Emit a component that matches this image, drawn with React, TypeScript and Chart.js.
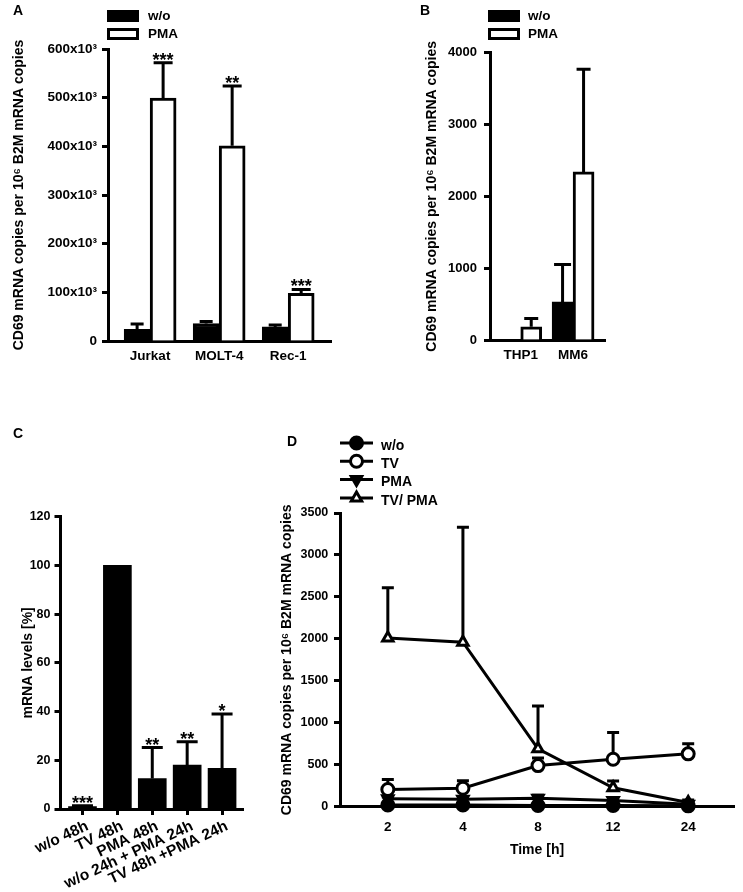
import React, { useEffect, useRef } from "react";
import { Chart, registerables } from "chart.js";

Chart.register(...registerables);

const FONT = "'Liberation Sans', Arial, Helvetica, sans-serif";
const INK = "#000000";
const PAPER = "#ffffff";

// ---------------- data ----------------
// Panel A
const aCategories = ["Jurkat", "MOLT-4", "Rec-1"];
const aWoMeans = [24000, 36000, 29000];
const aWoSd = [11000, 4000, 4000];
const aPmaMeans = [499000, 401000, 98000];
const aPmaSd = [73000, 123000, 8000];
const aPmaStars = ["***", "**", "***"];
const aYTicks = [0, 100000, 200000, 300000, 400000, 500000, 600000];

// Panel B
const bCategories = ["THP1", "MM6"];
const bWoMeans = [8, 530];
const bWoSd = [0, 520];
const bPmaMeans = [185, 2340];
const bPmaSd = [115, 1430];
const bYTicks = [0, 1000, 2000, 3000, 4000];

// Panel C
const cCategories = ["w/o 48h", "TV 48h", "PMA 48h", "w/o 24h + PMA 24h", "TV 48h +PMA 24h"];
const cMeans = [1, 100, 12.5, 18, 16.7];
const cSd = [0.3, 0, 12.7, 9.6, 22.3];
const cStars = ["***", "", "**", "**", "*"];
const cYTicks = [0, 20, 40, 60, 80, 100, 120];

// Panel D
const dTimes = ["2", "4", "8", "12", "24"];
const dWoMeans = [20, 20, 15, 15, 10];
const dWoSd = [10, 10, 10, 10, 5];
const dTvMeans = [205, 220, 490, 565, 630];
const dTvSd = [120, 90, 90, 320, 120];
const dPmaMeans = [95, 90, 100, 75, 30];
const dPmaSd = [20, 20, 35, 20, 10];
const dTvPmaMeans = [2010, 1960, 690, 225, 50];
const dTvPmaSd = [600, 1370, 510, 80, 30];
const dYTicks = [0, 500, 1000, 1500, 2000, 2500, 3000, 3500];

const Y_TITLE_COPIES = "CD69 mRNA copies per 10\u2076 B2M mRNA copies";
const Y_TITLE_PERCENT = "mRNA levels [%]";
const X_TITLE_TIME = "Time [h]";

// ---------------- layout ----------------
type Box = { left: number; top: number; width: number; height: number };
type Area = { l: number; t: number; r: number; b: number };

const boxA: Box = { left: 0, top: 0, width: 372, height: 380 };
const areaA: Area = { l: 108, t: 49, r: 331, b: 341 };
const boxB: Box = { left: 380, top: 0, width: 363, height: 380 };
const areaB: Area = { l: 490, t: 52.7, r: 605, b: 340 };
const boxC: Box = { left: 0, top: 420, width: 300, height: 472 };
const areaC: Area = { l: 60.5, t: 516.7, r: 243, b: 809 };
const boxD: Box = { left: 270, top: 420, width: 473, height: 472 };
const areaD: Area = { l: 340, t: 513, r: 738, b: 806.7 };

function frame(box: Box, area: Area) {
  return {
    padding: { left: 0, top: area.t - box.top, right: box.left + box.width - area.r, bottom: 0 },
    yWidth: area.l - box.left,
    xHeight: box.top + box.height - area.b,
  };
}

const bold = (size: number) => ({ family: FONT, size, weight: "bold" as const });

// ---------------- plugins ----------------
const errorBarPlugin = {
  id: "errorBars",
  beforeDatasetsDraw(chart: any) {
    const { ctx } = chart;
    const ys = chart.scales.y;
    chart.data.datasets.forEach((ds: any, di: number) => {
      if (!ds.errors) return;
      const meta = chart.getDatasetMeta(di);
      ctx.save();
      ctx.strokeStyle = INK;
      ctx.lineWidth = 3;
      ctx.lineCap = "butt";
      meta.data.forEach((el: any, i: number) => {
        const sd = ds.errors[i];
        if (!sd) return;
        const v = ds.data[i].y;
        const x = el.x;
        const y0 = ys.getPixelForValue(v);
        const y1 = ys.getPixelForValue(v + sd);
        const cw = ds.errorCap || 14;
        ctx.beginPath();
        ctx.moveTo(x, y0);
        ctx.lineTo(x, y1);
        ctx.moveTo(x - cw / 2, y1);
        ctx.lineTo(x + cw / 2, y1);
        ctx.stroke();
      });
      ctx.restore();
    });
  },
};

const starPlugin = {
  id: "stars",
  afterDatasetsDraw(chart: any) {
    const { ctx } = chart;
    const ys = chart.scales.y;
    chart.data.datasets.forEach((ds: any, di: number) => {
      if (!ds.stars) return;
      const meta = chart.getDatasetMeta(di);
      ctx.save();
      ctx.fillStyle = INK;
      ctx.font = `bold 18px ${FONT}`;
      ctx.textAlign = "center";
      ctx.textBaseline = "alphabetic";
      meta.data.forEach((el: any, i: number) => {
        const s = ds.stars[i];
        if (!s) return;
        const v = ds.data[i].y + (ds.errors ? ds.errors[i] || 0 : 0);
        ctx.fillText(s, el.x, ys.getPixelForValue(v) + 3);
      });
      ctx.restore();
    });
  },
};

function drawMarker(ctx: CanvasRenderingContext2D, style: string, x: number, y: number, r: number, rotDeg: number, fill: string) {
  ctx.beginPath();
  if (style === "triangle") {
    let rad = (rotDeg * Math.PI) / 180;
    ctx.moveTo(x + Math.sin(rad) * r, y - Math.cos(rad) * r);
    rad += (2 * Math.PI) / 3;
    ctx.lineTo(x + Math.sin(rad) * r, y - Math.cos(rad) * r);
    rad += (2 * Math.PI) / 3;
    ctx.lineTo(x + Math.sin(rad) * r, y - Math.cos(rad) * r);
    ctx.closePath();
  } else {
    ctx.arc(x, y, r, 0, Math.PI * 2);
  }
  ctx.fillStyle = fill;
  ctx.fill();
  ctx.lineWidth = 3;
  ctx.strokeStyle = INK;
  ctx.stroke();
}

const legendPlugin = {
  id: "panelLegend",
  afterDraw(chart: any, _args: any, o: any) {
    if (!o || !o.kind) return;
    const { ctx } = chart;
    ctx.save();
    ctx.font = `bold ${o.fontSize || 14}px ${FONT}`;
    ctx.textBaseline = "middle";
    ctx.textAlign = "left";
    chart.data.datasets.forEach((ds: any, i: number) => {
      const cy = o.y + i * o.dy;
      if (o.kind === "box") {
        const x = o.x;
        const y = cy - o.boxH / 2;
        ctx.fillStyle = ds.backgroundColor;
        ctx.fillRect(x, y, o.boxW, o.boxH);
        ctx.lineWidth = 3;
        ctx.strokeStyle = INK;
        ctx.strokeRect(x + 1.5, y + 1.5, o.boxW - 3, o.boxH - 3);
      } else {
        ctx.lineWidth = 3;
        ctx.strokeStyle = INK;
        ctx.beginPath();
        ctx.moveTo(o.x, cy);
        ctx.lineTo(o.x + o.lineW, cy);
        ctx.stroke();
        drawMarker(ctx, ds.pointStyle, o.x + o.lineW / 2, cy, ds.pointRadius, ds.pointRotation || 0, ds.pointBackgroundColor);
      }
      ctx.fillStyle = INK;
      ctx.fillText(ds.label, o.textX, cy + (o.textDy || 0));
    });
    ctx.restore();
  },
};

// ---------------- scale builders ----------------
function indexX(labels: string[], min: number, max: number, height: number, fontSize: number, pad: number, extra: any = {}) {
  return {
    type: "linear",
    min,
    max,
    offset: false,
    z: 1,
    afterBuildTicks: (s: any) => {
      s.ticks = labels.map((_, i) => ({ value: i }));
    },
    afterFit: (s: any) => {
      s.height = height;
    },
    ticks: {
      autoSkip: false,
      maxRotation: 0,
      minRotation: 0,
      color: INK,
      font: bold(fontSize),
      padding: pad,
      callback: (v: number) => labels[Math.round(v)] ?? "",
    },
    grid: { display: false, drawTicks: false, offset: false },
    border: { display: true, width: 3, color: INK },
    ...extra,
  };
}

function valueY(o: {
  ticks: number[];
  width: number;
  title: string;
  titlePad: number;
  fontSize: number;
  pad: number;
  fmt?: (v: number) => string;
  z?: number;
}) {
  const step = o.ticks[1] - o.ticks[0];
  return {
    type: "linear",
    min: o.ticks[0],
    max: o.ticks[o.ticks.length - 1],
    z: o.z ?? 1,
    afterFit: (s: any) => {
      s.width = o.width;
    },
    ticks: {
      stepSize: step,
      color: INK,
      font: bold(o.fontSize),
      padding: o.pad,
      callback: (v: number) => (o.fmt ? o.fmt(v) : String(v)),
    },
    grid: { display: true, drawOnChartArea: false, drawTicks: true, tickLength: 6, tickWidth: 3, tickColor: INK },
    border: { display: true, width: 3, color: INK },
    title: { display: true, text: o.title, color: INK, font: bold(14), padding: { top: o.titlePad, bottom: 0 } },
  };
}

function baseOptions(f: ReturnType<typeof frame>) {
  return {
    animation: false,
    responsive: false,
    maintainAspectRatio: false,
    layout: { padding: f.padding },
    events: [],
  };
}

const offPlugins = { legend: { display: false }, tooltip: { enabled: false }, title: { display: false } };

// ---------------- chart configs ----------------
function buildA() {
  const f = frame(boxA, areaA);
  return {
    type: "bar",
    data: {
      datasets: [
        { label: "w/o", data: aWoMeans.map((y, x) => ({ x, y })), errors: aWoSd, errorCap: 13, backgroundColor: INK, borderColor: INK, borderWidth: 3, barThickness: 26 },
        { label: "PMA", data: aPmaMeans.map((y, x) => ({ x, y })), errors: aPmaSd, stars: aPmaStars, errorCap: 19, backgroundColor: PAPER, borderColor: INK, borderWidth: 3, barThickness: 26 },
      ],
    },
    options: {
      ...baseOptions(f),
      scales: {
        x: indexX(aCategories, -0.61, 2.62, f.xHeight, 13.5, 7),
        y: valueY({ ticks: aYTicks, width: f.yWidth, title: Y_TITLE_COPIES, titlePad: 11.1, fontSize: 13.5, pad: 5, fmt: (v) => (v === 0 ? "0" : `${v / 1000}x10\u00b3`) }),
      },
      plugins: { ...offPlugins, panelLegend: { kind: "box", x: 107, y: 16, dy: 18, boxW: 32, boxH: 12, textX: 148, fontSize: 13.5 } },
    },
    plugins: [errorBarPlugin, starPlugin, legendPlugin],
  };
}

function buildB() {
  const f = frame(boxB, areaB);
  return {
    type: "bar",
    data: {
      datasets: [
        { label: "w/o", data: bWoMeans.map((y, x) => ({ x, y })), errors: bWoSd, errorCap: 17, backgroundColor: INK, borderColor: INK, borderWidth: 3, barThickness: 21 },
        { label: "PMA", data: bPmaMeans.map((y, x) => ({ x, y })), errors: bPmaSd, errorCap: 14, backgroundColor: PAPER, borderColor: INK, borderWidth: 3, barThickness: 21 },
      ],
    },
    options: {
      ...baseOptions(f),
      scales: {
        x: indexX(bCategories, -0.587, 1.61, f.xHeight, 13.5, 7),
        y: valueY({ ticks: bYTicks, width: f.yWidth, title: Y_TITLE_COPIES, titlePad: 44.1, fontSize: 13, pad: 7 }),
      },
      plugins: { ...offPlugins, panelLegend: { kind: "box", x: 108, y: 16, dy: 18, boxW: 32, boxH: 12, textX: 148, fontSize: 13.5 } },
    },
    plugins: [errorBarPlugin, starPlugin, legendPlugin],
  };
}

function buildC() {
  const f = frame(boxC, areaC);
  return {
    type: "bar",
    data: {
      datasets: [
        { label: "mRNA", data: cMeans.map((y, x) => ({ x, y })), errors: cSd, stars: cStars, errorCap: 21, backgroundColor: INK, borderColor: INK, borderWidth: 0, barThickness: 28 },
      ],
    },
    options: {
      ...baseOptions(f),
      scales: {
        x: indexX(cCategories, -0.63, 4.6, f.xHeight, 15, 0, {
          grid: { display: true, drawOnChartArea: false, drawTicks: true, tickLength: 6, tickWidth: 3, tickColor: INK, offset: false },
          ticks: {
            autoSkip: false,
            maxRotation: 25,
            minRotation: 25,
            color: INK,
            font: bold(15.5),
            padding: 2,
            labelOffset: 5,
            callback: (v: number) => cCategories[Math.round(v)] ?? "",
          },
        }),
        y: valueY({ ticks: cYTicks, width: f.yWidth, title: Y_TITLE_PERCENT, titlePad: 19.9, fontSize: 12.5, pad: 4 }),
      },
      plugins: { ...offPlugins },
    },
    plugins: [errorBarPlugin, starPlugin],
  };
}

function lineDs(label: string, means: number[], sd: number[], style: string, rot: number, fill: string) {
  return {
    label,
    data: means.map((y, x) => ({ x, y })),
    errors: sd,
    errorCap: 12,
    borderColor: INK,
    borderWidth: 3,
    backgroundColor: fill,
    pointStyle: style,
    pointRotation: rot,
    pointRadius: 6,
    pointBorderWidth: 3,
    pointBorderColor: INK,
    pointBackgroundColor: fill,
    tension: 0,
    fill: false,
    clip: false,
  };
}

function buildD() {
  const f = frame(boxD, areaD);
  return {
    type: "line",
    data: {
      datasets: [
        lineDs("w/o", dWoMeans, dWoSd, "circle", 0, INK),
        lineDs("TV", dTvMeans, dTvSd, "circle", 0, PAPER),
        lineDs("PMA", dPmaMeans, dPmaSd, "triangle", 180, INK),
        lineDs("TV/ PMA", dTvPmaMeans, dTvPmaSd, "triangle", 0, PAPER),
      ],
    },
    options: {
      ...baseOptions(f),
      scales: {
        x: indexX(dTimes, -0.637, 4.61, f.xHeight, 13.5, 12, {
          z: 0,
          title: { display: true, text: X_TITLE_TIME, color: INK, font: bold(14), padding: { top: 0, bottom: 33.6 } },
        }),
        y: valueY({ ticks: dYTicks, width: f.yWidth, title: Y_TITLE_COPIES, titlePad: 9.1, fontSize: 12.5, pad: 5.7, z: 0 }),
      },
      plugins: { ...offPlugins, panelLegend: { kind: "line", x: 70, lineW: 33, y: 23, dy: 18.3, textX: 111, textDy: 3, fontSize: 14 } },
    },
    plugins: [errorBarPlugin, legendPlugin],
  };
}

// ---------------- components ----------------
function ChartCanvas({ box, build }: { box: Box; build: () => any }) {
  const ref = useRef<HTMLCanvasElement>(null);
  useEffect(() => {
    const chart = new Chart(ref.current as HTMLCanvasElement, build());
    return () => chart.destroy();
  }, []);
  return (
    <canvas
      ref={ref}
      width={box.width}
      height={box.height}
      style={{ position: "absolute", left: box.left, top: box.top, width: box.width, height: box.height }}
    />
  );
}

function PanelLetter({ text, left, baseline }: { text: string; left: number; baseline: number }) {
  return (
    <div
      style={{
        position: "absolute",
        left,
        top: baseline - 11.85,
        fontFamily: FONT,
        fontWeight: "bold",
        fontSize: 14,
        lineHeight: "14px",
        color: INK,
      }}
    >
      {text}
    </div>
  );
}

export default function App() {
  return (
    <div style={{ position: "absolute", left: 0, top: 0, width: 743, height: 892, background: PAPER, overflow: "hidden" }}>
      <ChartCanvas box={boxA} build={buildA} />
      <ChartCanvas box={boxB} build={buildB} />
      <ChartCanvas box={boxC} build={buildC} />
      <ChartCanvas box={boxD} build={buildD} />
      <PanelLetter text="A" left={13} baseline={15} />
      <PanelLetter text="B" left={420} baseline={15} />
      <PanelLetter text="C" left={13} baseline={438} />
      <PanelLetter text="D" left={287} baseline={446} />
    </div>
  );
}
